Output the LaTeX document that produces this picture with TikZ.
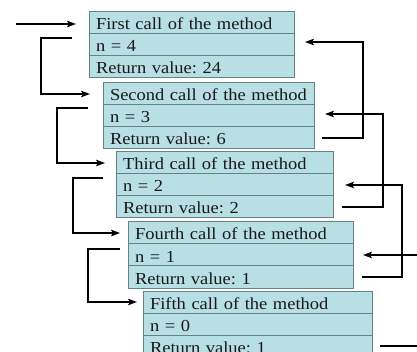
\documentclass[tikz,border=0pt]{standalone}
\usepackage{fontspec}
\setmainfont{Liberation Serif}[FakeStretch=1.1]
\usetikzlibrary{arrows.meta}

\definecolor{cellfill}{RGB}{183,223,228}
\definecolor{cellline}{RGB}{100,130,135}
\definecolor{celltext}{RGB}{25,25,25}

\tikzset{
  cell/.style={draw=cellline, line width=1pt, fill=cellfill, anchor=north west,
    outer sep=0pt, inner xsep=7pt, inner ysep=0pt, minimum height=22pt,
    text height=15pt, text depth=1pt, text width=#1, align=left,
    font=\fontsize{16.8}{17}\selectfont\frenchspacing, text=celltext},
  link/.style={line width=2.5pt, line join=miter,
    -{Stealth[length=9pt,width=6.5pt,inset=2pt]}},
}

% one activation record: title, parameter and return value
\newcommand{\callrecord}[7]{%
  % #1 id, #2 x, #3 top, #4 width, #5 title, #6 n, #7 return value
  \node[cell=#4pt-14pt] (t#1) at (#2,#3) {\mbox{#5}};
  \node[cell=#4pt-14pt] (n#1) at (t#1.south west) {\mbox{n = #6}};
  \node[cell=#4pt-14pt] (r#1) at (n#1.south west) {\mbox{Return value: #7}};
}

\begin{document}
\begin{tikzpicture}[x=1pt,y=-1pt]
  \useasboundingbox (0,0) rectangle (417,352);
  \clip (0,0) rectangle (417,352);

  \callrecord{1}{89}{12}{205}{First call of the method}{4}{24}
  \callrecord{2}{103}{83}{211}{Second call of the method}{3}{6}
  \callrecord{3}{116}{152}{217}{Third call of the method}{2}{2}
  \callrecord{4}{128}{222}{225}{Fourth call of the method}{1}{1}
  \callrecord{5}{143}{291}{229}{Fifth call of the method}{0}{1}

  % calls going down
  \coordinate (start) at (16,24);
  \coordinate (a1) at (72,38);
  \coordinate (a2) at (88,108);
  \coordinate (a3) at (103,178);
  \coordinate (a4) at (120,249);

  \draw[link, shorten >=13pt] (start) -- (start -| t1.west);
  \draw[link, shorten >=13pt] (a1) -| ([xshift=-62pt]t2.west) -- (t2.west);
  \draw[link, shorten >=11pt] (a2) -| ([xshift=-59pt]t3.west) -- (t3.west);
  \draw[link, shorten >=8pt]  (a3) -| ([xshift=-55pt]t4.west) -- (t4.west);
  \draw[link, shorten >=6pt]  (a4) -| ([xshift=-55pt]t5.west) -- (t5.west);

  % values returned upwards
  \draw[link, shorten >=11pt] ([xshift=8pt]r2.east) -| ([xshift=69pt,yshift=3pt]n1.east) -- ([yshift=3pt]n1.east);
  \draw[link, shorten >=11pt] ([xshift=9pt]r3.east) -| ([xshift=69pt,yshift=2pt]n2.east) -- ([yshift=2pt]n2.east);
  \draw[link, shorten >=12pt] ([xshift=9pt]r4.east) -| ([xshift=69pt]n3.east) -- (n3.east);
  \draw[link, shorten >=10pt] ([xshift=8pt]r5.east) -| ([xshift=69pt]n4.east) -- (n4.east);
\end{tikzpicture}
\end{document}
